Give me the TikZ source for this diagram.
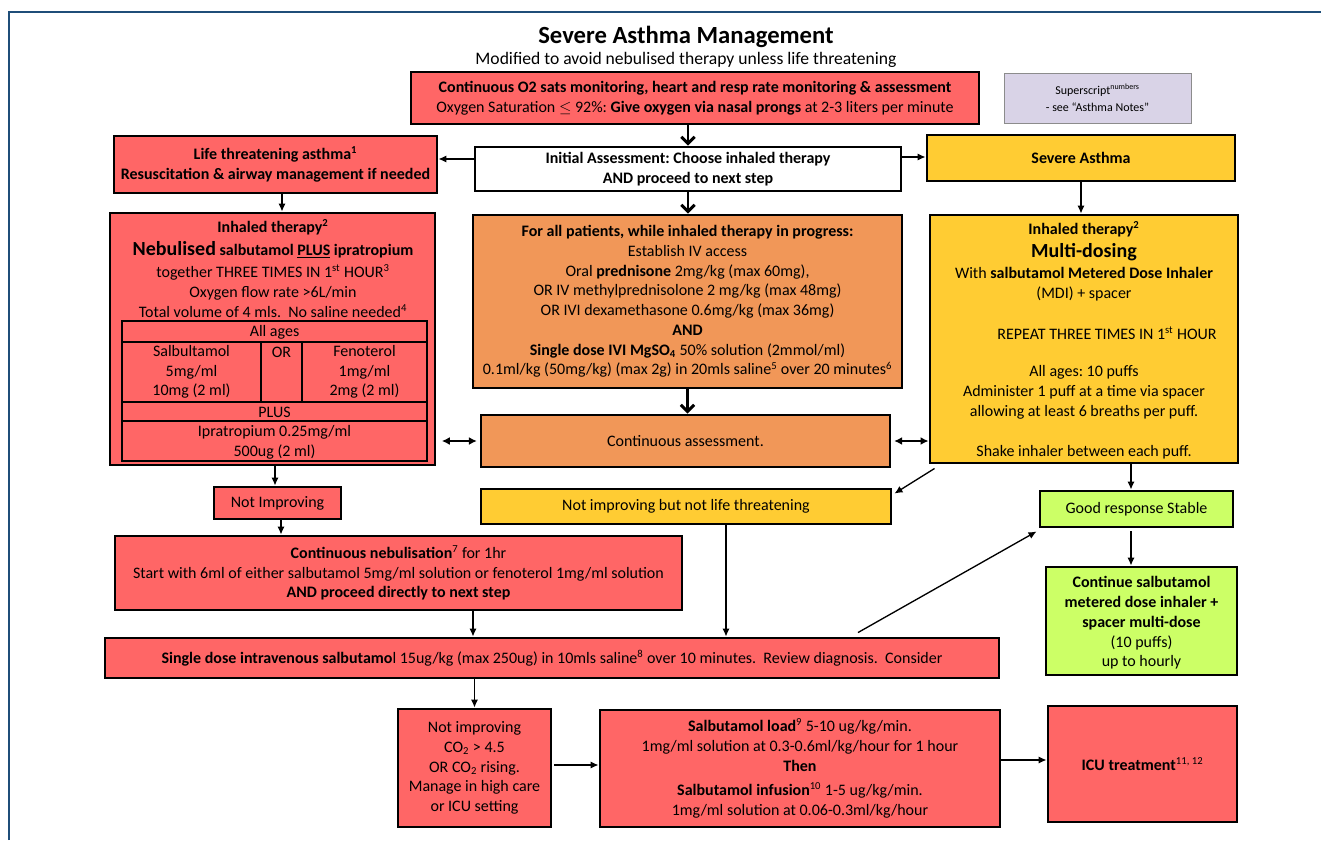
\documentclass[tikz,border=0pt]{standalone}
\usepackage{fontspec}
\setmainfont{Carlito}
\usetikzlibrary{fit,arrows.meta,calc}
\definecolor{redc}{RGB}{255,102,102}
\definecolor{orangec}{RGB}{241,151,88}
\definecolor{yellowc}{RGB}{255,204,51}
\definecolor{greenc}{RGB}{204,255,102}
\definecolor{lavc}{RGB}{217,211,231}
\definecolor{framec}{RGB}{31,78,121}
\newcommand{\bfnt}{\fontsize{12}{14.8}\selectfont\frenchspacing}
\newcommand{\bignt}{\fontsize{15}{18}\selectfont}
\begin{document}
\begin{tikzpicture}[x=0.75pt,y=-0.75pt,
  boxbase/.style={draw=black, line width=2.2pt, inner sep=0pt},
  redbox/.style={boxbase, fill=redc},
  orangebox/.style={boxbase, fill=orangec},
  yellowbox/.style={boxbase, fill=yellowc},
  greenbox/.style={boxbase, fill=greenc},
  whitebox/.style={boxbase, fill=white},
  notebox/.style={draw=black!45, line width=0.6pt, fill=lavc, inner sep=0pt},
  txt/.style={inner sep=0pt, align=center, font=\bfnt},
  smalltxt/.style={inner sep=0pt, align=center, font=\fontsize{9}{12.5}\selectfont},
  tbl/.style={draw=black, line width=0.8pt},
  conn/.style={draw=black, line width=1pt, -{Latex[length=6pt,width=5.5pt]}},
  thickarr/.style={draw=black, line width=2.2pt, -{Straight Barb[length=5pt,width=10pt]}},
  dbl/.style={draw=black, line width=1.5pt, {Latex[length=6pt,width=6pt]}-{Latex[length=6pt,width=6pt]}},
]
\useasboundingbox (0,0) rectangle (1321,840);
\fill[white] (0,0) rectangle (1321,840);
\draw[framec, line width=1.8pt] (9,840) -- (9,12) -- (1321,12);

% titles
\node[inner sep=0pt, font=\fontsize{18.5}{22}\selectfont\bfseries] (title) at (686,37) {Severe Asthma Management};
\node[inner sep=0pt, font=\fontsize{13.2}{16}\selectfont] (subtitle) at (686,60) {Modified to avoid nebulised therapy unless life threatening};

% top row
\node[redbox, fit={(411,72)(979,124)}] (o2) {};
\node[txt] (o2t) at (o2.center) {\textbf{Continuous O2 sats monitoring, heart and resp rate monitoring \& assessment}\\Oxygen Saturation $\leq$ 92\%: \textbf{Give oxygen via nasal prongs} at 2-3 liters per minute};
\node[notebox, fit={(1004,73)(1191,123)}] (notes) {};
\node[smalltxt] (notest) at (notes.center) {Superscript\textsuperscript{numbers}\\- see “Asthma Notes”};
\node[redbox, fit={(114,136)(437,193)}] (life) {};
\node[txt, font=\bfnt\bfseries] (lifet) at (life.center) {Life threatening asthma\textsuperscript{1}\\Resuscitation \& airway management if needed};
\node[whitebox, fit={(475,147)(901,191)}] (init) {};
\node[txt, font=\bfnt\bfseries] (initt) at (init.center) {Initial Assessment: Choose inhaled therapy\\AND proceed to next step};
\node[yellowbox, fit={(927,135)(1235,181)}] (severe) {};
\node[txt, font=\bfnt\bfseries] (severet) at (severe.center) {Severe Asthma};

% left nebulised box
\node[redbox, fit={(110,213)(435,465)}] (lefttx) {};
\node[txt, font=\bfnt\bfseries] (lt1) at (273,227) {Inhaled therapy\textsuperscript{2}};
\node[txt] (lt2) at (273,250) {\textbf{\bignt Nebulised} \textbf{salbutamol \underline{PLUS} ipratropium}};
\node[txt] (lt3) at (273,291) {together THREE TIMES IN 1\textsuperscript{st} HOUR\textsuperscript{3}\\Oxygen flow rate >6L/min\\Total volume of 4 mls.~ No saline needed\textsuperscript{4}};
\draw[tbl] (122,321) rectangle (427,461);
\draw[tbl] (122,342) -- (427,342) (122,402) -- (427,402) (122,421) -- (427,421)
  (261,342) -- (261,402) (302,342) -- (302,402);
\node[txt] (allages) at (274.5,332) {All ages};
\node[txt] (salb) at (191.5,372) {Salbultamol\\5mg/ml\\10mg (2 ml)};
\node[txt] (orcell) at (281.5,352) {OR};
\node[txt] (feno) at (364.5,372) {Fenoterol\\1mg/ml\\2mg (2 ml)};
\node[txt] (pluscell) at (274.5,412) {PLUS};
\node[txt] (iprat) at (274.5,442) {Ipratropium 0.25mg/ml\\500ug (2 ml)};

% center boxes
\node[orangebox, fit={(473,215)(902,388)}] (allpt) {};
\node[txt] (allptt) at (allpt.center) {\textbf{For all patients, while inhaled therapy in progress:}\\Establish IV access\\Oral \textbf{prednisone} 2mg/kg (max 60mg),\\OR IV methylprednisolone 2 mg/kg (max 48mg)\\OR IVI dexamethasone 0.6mg/kg (max 36mg)\\\textbf{AND}\\\textbf{Single dose IVI MgSO\textsubscript{4}} 50\% solution (2mmol/ml)\\0.1ml/kg (50mg/kg) (max 2g) in 20mls saline\textsuperscript{5} over 20 minutes\textsuperscript{6}};
\node[orangebox, fit={(481,415)(890,467)}] (cont) {};
\node[txt] (contt) at (cont.center) {Continuous assessment.};

% right multi-dosing box
\node[yellowbox, fit={(930,215)(1238,463)}] (multi) {};
\node[txt, font=\bfnt\bfseries] (rt1) at (1084,229) {Inhaled therapy\textsuperscript{2}};
\node[txt, font=\bignt\bfseries] (rt2) at (1084,252) {Multi-dosing};
\node[txt] (rt3) at (1084,284) {With \textbf{salbutamol Metered Dose Inhaler}\\(MDI) + spacer};
\node[txt] (rt4) at (1107,333) {REPEAT THREE TIMES IN 1\textsuperscript{st} HOUR};
\node[txt] (rt5) at (1084,392.5) {All ages: 10 puffs\\Administer 1 puff at a time via spacer\\allowing at least 6 breaths per puff.};
\node[txt] (rt6) at (1084,452) {Shake inhaler between each puff.};

% middle rows
\node[redbox, fit={(214,487)(341,519)}] (notimp) {};
\node[txt] (notimpt) at (notimp.center) {Not Improving};
\node[yellowbox, fit={(481,489)(891,524)}] (notlife) {};
\node[txt] (notlifet) at (notlife.center) {Not improving but not life threatening};
\node[greenbox, fit={(1040,491)(1233,527)}] (good) {};
\node[txt] (goodt) at (good.center) {Good response Stable};
\node[redbox, fit={(115,536)(682,610)}] (contneb) {};
\node[txt] (contnebt) at (contneb.center) {\textbf{Continuous nebulisation}\textsuperscript{7} for 1hr\\Start with 6ml of either salbutamol 5mg/ml solution or fenoterol 1mg/ml solution\\\textbf{AND proceed directly to next step}};
\node[greenbox, fit={(1046,567)(1237,675)}] (contsalb) {};
\node[txt] (contsalbt) at ($(contsalb.center)+(0,2)$) {\textbf{Continue salbutamol}\\\textbf{metered dose inhaler +}\\\textbf{spacer multi-dose}\\(10 puffs)\\up to hourly};
\node[redbox, fit={(105,638)(999,678)}] (ivsalb) {};
\node[txt] (ivsalbt) at (ivsalb.center) {\textbf{Single dose intravenous salbutamo}l 15ug/kg (max 250ug) in 10mls saline\textsuperscript{8} over 10 minutes.~ Review diagnosis.~ Consider};

% bottom row
\node[redbox, fit={(398,709)(551,827)}] (co2) {};
\node[txt] (co2t) at (co2.center) {Not improving\\CO\textsubscript{2} > 4.5\\OR CO\textsubscript{2} rising.\\Manage in high care\\or ICU setting};
\node[redbox, fit={(600,710)(1000,827)}] (load) {};
\node[txt] (loadt) at (load.center) {\textbf{Salbutamol load}\textsuperscript{9} 5-10 ug/kg/min.\\1mg/ml solution at 0.3-0.6ml/kg/hour for 1 hour\\\textbf{Then}\\[3.5pt]\textbf{Salbutamol infusion}\textsuperscript{10} 1-5 ug/kg/min.\\1mg/ml solution at 0.06-0.3ml/kg/hour};
\node[redbox, fit={(1048,706)(1237,822)}] (icu) {};
\node[txt] (icut) at (icu.center) {\textbf{ICU treatment}\textsuperscript{11, 12}};

% connectors
\draw[thickarr] (init.north |- o2.south) -- (init.north);
\draw[conn] ($(init.west)+(0,-10)$) -- ($(init.west -| life.east)+(0,-10)$);
\draw[conn] ($(init.east)+(0,-12)$) -- ($(init.east -| severe.west)+(0,-12)$);
\draw[conn] ($(life.south)+(6.5,0)$) -- ($(life.south |- lefttx.north)+(6.5,0)$);
\draw[thickarr] (init.south) -- (init.south |- allpt.north);
\draw[conn] (severe.south) -- (severe.south |- multi.north);
\draw[thickarr] (allpt.south) -- (allpt.south |- cont.north);
\draw[dbl, shorten <=4pt, shorten >=2pt] (lefttx.east |- cont.west) -- (cont.west);
\draw[dbl, shorten <=2pt] (cont.east) -- (cont.east -| multi.west);
\draw[conn] ($(lefttx.south)+(2.5,0)$) -- ($(lefttx.south |- notimp.north)+(2.5,0)$);
\draw[conn] ($(notimp.south)+(3.5,0)$) -- ($(notimp.south |- contneb.north)+(3.5,0)$);
\draw[conn] ($(multi.south west)+(6,4)$) -- ($(notlife.north east)+(2,6)$);
\draw[conn] ($(multi.south)+(47,0)$) -- ($(multi.south |- good.north)+(47,0)$);
\draw[conn] ($(good.south)+(-5.5,3)$) -- ($(good.south |- contsalb.north)+(-5.5,0)$);
\draw[conn] ($(contneb.south)+(74.5,0)$) -- ($(contneb.south |- ivsalb.north)+(74.5,0)$);
\draw[conn] ($(notlife.south)+(40,-2)$) -- ($(notlife.south |- ivsalb.north)+(40,0)$);
\draw[conn] ($(ivsalb.north)+(306,-4)$) -- ($(good.south west)+(-2,3)$);
\draw[conn] (ivsalb.south -| co2.north) -- (co2.north);
\draw[conn] ($(co2.east)+(2,-3)$) -- ($(co2.east -| load.west)+(0,-3)$);
\draw[conn] ($(load.east)+(0,-8.5)$) -- ($(load.east -| icu.west)+(0,-8.5)$);
\end{tikzpicture}
\end{document}
